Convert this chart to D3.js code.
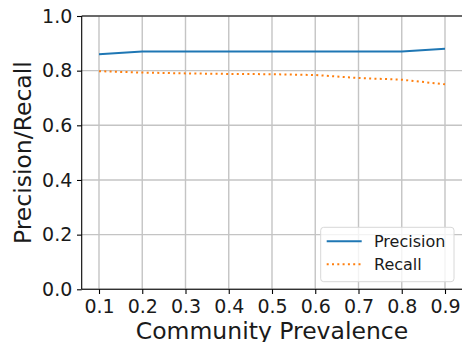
<!DOCTYPE html>
<html>
<head>
<meta charset="utf-8">
<script src="https://cdn.jsdelivr.net/npm/d3@7"></script>
<style>
  html, body { margin: 0; padding: 0; background: #fff; }
  svg { display: block; font-family: "DejaVu Sans", sans-serif; }
</style>
</head>
<body>
<svg id="chart" width="462" height="342"></svg>
<script>
// Community prevalence levels on the x axis
const prevalence = [0.1, 0.2, 0.3, 0.4, 0.5, 0.6, 0.7, 0.8, 0.9];
// Scores at each prevalence level
const precision = [0.86, 0.87, 0.87, 0.87, 0.87, 0.87, 0.87, 0.87, 0.88];
const recall = [0.798, 0.793, 0.790, 0.788, 0.787, 0.784, 0.773, 0.767, 0.750];
// Tick values
const xTicks = [0.1, 0.2, 0.3, 0.4, 0.5, 0.6, 0.7, 0.8, 0.9];
const yTicks = [0.0, 0.2, 0.4, 0.6, 0.8, 1.0];

const svg = d3.select("#chart");
const plotLeft = 81.7, plotRight = 462.3, plotTop = 16, plotBottom = 289.3;

const x = d3.scaleLinear().domain([0.06, 0.94]).range([plotLeft, plotRight]);
const y = d3.scaleLinear().domain([0, 1]).range([plotBottom, plotTop]);

// grid
const grid = svg.append("g");
grid.selectAll("line.gx").data(xTicks).join("line")
  .attr("x1", d => x(d)).attr("x2", d => x(d))
  .attr("y1", plotTop).attr("y2", plotBottom)
  .attr("stroke", "#c4c4c4").attr("stroke-width", 1.4);
grid.selectAll("line.gy").data(yTicks).join("line")
  .attr("x1", plotLeft).attr("x2", plotRight)
  .attr("y1", d => y(d)).attr("y2", d => y(d))
  .attr("stroke", "#c4c4c4").attr("stroke-width", 1.4);

// axes
const xAxis = d3.axisBottom(x).tickValues(xTicks).tickFormat(d3.format(".1f"))
  .tickSize(4.7).tickPadding(5.8);
const yAxis = d3.axisLeft(y).tickValues(yTicks).tickFormat(d3.format(".1f"))
  .tickSize(4.7).tickPadding(4.7);

const gx = svg.append("g").attr("transform", `translate(0,${plotBottom})`).call(xAxis);
const gy = svg.append("g").attr("transform", `translate(${plotLeft},0)`).call(yAxis);
[gx, gy].forEach(g => {
  g.select(".domain").remove();
  g.selectAll(".tick line").attr("stroke", "#000").attr("stroke-width", 1.1);
  g.selectAll(".tick text").attr("fill", "#1a1a1a")
    .style("font-size", "19px").style("font-family", "DejaVu Sans");
});

// lines
const line = d3.line().x((d, i) => x(prevalence[i])).y(d => y(d));
svg.append("path").datum(precision)
  .attr("d", line).attr("fill", "none")
  .attr("stroke", "#1f77b4").attr("stroke-width", 2);
svg.append("path").datum(recall)
  .attr("d", line).attr("fill", "none")
  .attr("stroke", "#ff7f0e").attr("stroke-width", 2)
  .attr("stroke-dasharray", "2,3.3");

// spines
svg.append("line").attr("x1", plotLeft).attr("x2", plotLeft).attr("y1", plotTop).attr("y2", plotBottom)
  .attr("stroke", "#000").attr("stroke-width", 1.1);
svg.append("line").attr("x1", plotLeft).attr("x2", plotRight).attr("y1", plotBottom).attr("y2", plotBottom)
  .attr("stroke", "#000").attr("stroke-width", 1.1);
svg.append("line").attr("x1", plotLeft).attr("x2", plotRight).attr("y1", plotTop).attr("y2", plotTop)
  .attr("stroke", "#000").attr("stroke-width", 1.1);

// axis titles
svg.append("text").attr("x", (plotLeft + plotRight) / 2).attr("y", 338.8)
  .attr("text-anchor", "middle").attr("fill", "#1a1a1a")
  .style("font-size", "23.5px").text("Community Prevalence");
svg.append("text")
  .attr("transform", `translate(31,${(plotTop + plotBottom) / 2}) rotate(-90)`)
  .attr("text-anchor", "middle").attr("fill", "#1a1a1a")
  .style("font-size", "23.5px").text("Precision/Recall");

// legend
const leg = svg.append("g");
leg.append("rect").attr("x", 320.7).attr("y", 227.3).attr("width", 133.3).attr("height", 54.4)
  .attr("rx", 3).attr("fill", "#fff").attr("fill-opacity", 0.8)
  .attr("stroke", "#d8d8d8").attr("stroke-width", 1);
const entries = [
  { name: "Precision", color: "#1f77b4", dash: null, y: 241.3 },
  { name: "Recall", color: "#ff7f0e", dash: "2,3.3", y: 264.3 }
];
entries.forEach(e => {
  leg.append("line").attr("x1", 326.7).attr("x2", 361.7).attr("y1", e.y).attr("y2", e.y)
    .attr("stroke", e.color).attr("stroke-width", 2)
    .attr("stroke-dasharray", e.dash);
  leg.append("text").attr("x", 374).attr("y", e.y).attr("dy", "0.36em")
    .attr("fill", "#1a1a1a").style("font-size", "16px").text(e.name);
});
</script>
</body>
</html>
